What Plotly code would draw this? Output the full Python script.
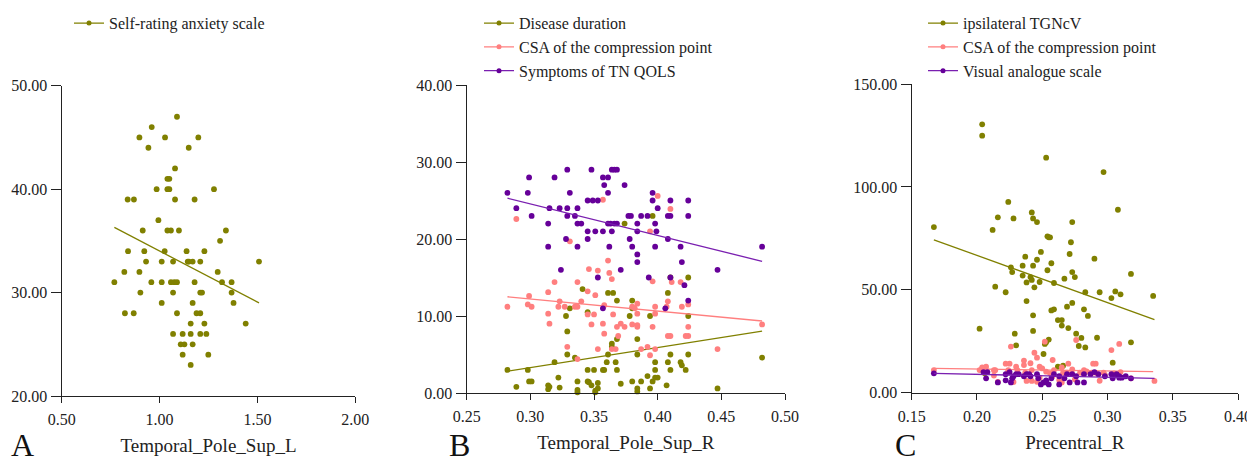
import plotly.graph_objects as go

# colours
OLIVE = "#808000"
PINK = "#FF7F7F"
PURPLE = "#660099"
PURPLE_LINE = "#7A1FB0"
FONT = "Liberation Serif, Times New Roman, serif"

# ---- Panel A: Temporal_Pole_Sup_L vs Self-rating anxiety scale ----
sas_x = [1.089, 0.960, 0.897, 1.028, 1.198, 0.943, 1.149, 1.079, 1.040, 1.050,
         0.985, 1.040, 1.050, 1.278, 0.837, 0.869, 1.079, 1.179, 0.994,
         0.914, 1.040, 1.058, 1.099, 1.339, 1.309, 0.839, 0.922, 1.026, 1.138, 1.229,
         0.931, 1.011, 1.069, 1.144, 1.150, 1.169, 1.208, 1.508, 0.820, 0.897, 1.297,
         0.769, 0.958, 1.011, 1.058, 1.075, 1.089, 1.179, 1.319, 1.368,
         0.902, 1.069, 1.208, 1.217, 1.368, 1.011, 1.169, 1.378,
         0.823, 0.868, 1.089, 1.189, 1.208, 1.159, 1.229, 1.440,
         1.069, 1.118, 1.159, 1.208, 1.239, 1.108, 1.127, 1.169, 1.118, 1.249, 1.159]
sas_y = [47, 46, 45, 45, 45, 44, 44, 42, 41, 41,
         40, 40, 40, 40, 39, 39, 39, 39, 37,
         36, 36, 36, 36, 36, 35, 34, 34, 34, 34, 34,
         33, 33, 33, 33, 33, 33, 33, 33, 32, 32, 32,
         31, 31, 31, 31, 31, 31, 31, 31, 31,
         30, 30, 30, 30, 30, 29, 29, 29,
         28, 28, 28, 28, 28, 27, 27, 27,
         26, 26, 26, 26, 26, 25, 25, 25, 24, 24, 23]
sas_fit_x = [0.769, 1.508]
sas_fit_y = [36.3, 29.0]

# ---- Panel B: Temporal_Pole_Sup_R ----
dur_x = [0.396, 0.374, 0.410, 0.424, 0.341, 0.361, 0.365, 0.408, 0.368, 0.380,
         0.331, 0.380, 0.345, 0.328, 0.378, 0.394, 0.424, 0.329, 0.368, 0.384,
         0.364, 0.364, 0.329, 0.335, 0.319, 0.361, 0.384, 0.410, 0.424, 0.398,
         0.408, 0.418, 0.419, 0.422, 0.360, 0.367, 0.345, 0.350, 0.357, 0.358,
         0.368, 0.398, 0.410, 0.282, 0.298, 0.299, 0.301, 0.314, 0.315, 0.289,
         0.314, 0.323, 0.322, 0.337, 0.337, 0.345, 0.346, 0.348, 0.353, 0.351,
         0.353, 0.371, 0.380, 0.384, 0.384, 0.387, 0.392, 0.396, 0.398, 0.400,
         0.394, 0.407, 0.447, 0.482, 0.337, 0.351]
dur_y = [23.0, 22.0, 15.0, 15.0, 13.5, 13.0, 13.0, 13.0, 12.0, 12.0,
         11.0, 11.0, 10.5, 10.0, 10.0, 10.0, 10.0, 8.0, 7.0, 7.0,
         6.4, 6.0, 5.0, 4.6, 4.0, 5.0, 5.0, 5.0, 5.0, 4.0,
         4.0, 4.0, 3.6, 3.0, 4.0, 4.0, 3.0, 3.0, 3.0, 3.0,
         3.0, 3.0, 3.0, 3.0, 3.0, 1.5, 1.5, 1.0, 0.8, 0.8,
         0.5, 0.7, 2.0, 1.5, 0.4, 1.5, 1.4, 1.0, 1.3, 0.3,
         0.6, 1.2, 1.5, 0.6, 0.2, 1.5, 2.2, 1.5, 2.0, 2.0,
         0.6, 1.0, 0.6, 4.6, 0.1, 0.1]
dur_fit_x = [0.281, 0.482]
dur_fit_y = [2.8, 8.05]

csa_b_x = [0.289, 0.357, 0.400, 0.410, 0.394, 0.331, 0.361, 0.346, 0.353, 0.362,
           0.364, 0.396, 0.411, 0.418, 0.319, 0.337, 0.314, 0.345, 0.351, 0.299,
           0.298, 0.301, 0.282, 0.314, 0.315, 0.323, 0.322, 0.327, 0.335, 0.337,
           0.340, 0.345, 0.348, 0.357, 0.358, 0.365, 0.368, 0.371, 0.374, 0.369,
           0.380, 0.384, 0.384, 0.384, 0.380, 0.382, 0.384, 0.398, 0.398, 0.396,
           0.408, 0.407, 0.419, 0.424, 0.424, 0.424, 0.422, 0.410, 0.408, 0.387,
           0.392, 0.398, 0.394, 0.447, 0.482, 0.329, 0.337, 0.353, 0.364, 0.367,
           0.358, 0.350]
csa_b_y = [22.6, 25.1, 25.6, 23.9, 21.0, 19.7, 17.2, 16.1, 15.9, 15.6,
           14.8, 14.5, 14.4, 14.4, 14.4, 14.4, 13.1, 13.2, 12.7, 12.6,
           11.5, 11.2, 11.2, 10.3, 9.0, 11.9, 11.2, 11.2, 11.2, 11.2,
           11.9, 10.2, 8.9, 9.0, 11.4, 10.2, 8.6, 9.0, 8.6, 7.4,
           8.9, 8.6, 8.8, 10.3, 11.2, 11.0, 11.6, 10.3, 11.2, 8.6,
           11.9, 11.2, 11.2, 11.5, 8.6, 7.4, 7.4, 7.4, 7.4, 5.7,
           6.0, 5.7, 4.9, 5.7, 8.9, 6.0, 4.4, 5.7, 5.7, 5.7,
           7.7, 10.2]
csa_b_fit_x = [0.282, 0.482]
csa_b_fit_y = [12.5, 9.35]

qols_x = [0.329, 0.348, 0.364, 0.366, 0.368,
          0.299, 0.319, 0.357, 0.361,
          0.358, 0.374,
          0.282, 0.298, 0.331, 0.361, 0.396,
          0.345, 0.349, 0.353, 0.396, 0.410, 0.424,
          0.289, 0.315, 0.323, 0.329, 0.337, 0.400,
          0.301, 0.329, 0.335, 0.377, 0.379, 0.387, 0.392, 0.408, 0.410, 0.424,
          0.314, 0.337, 0.340, 0.361, 0.363, 0.366, 0.368, 0.384, 0.398,
          0.345, 0.351, 0.357, 0.364, 0.384, 0.399,
          0.328, 0.345, 0.378, 0.408,
          0.314, 0.337, 0.362, 0.380, 0.398, 0.418, 0.482,
          0.384, 0.384, 0.419,
          0.324, 0.371, 0.447,
          0.353, 0.393, 0.410,
          0.421, 0.424, 0.357, 0.406]
qols_y = [29, 29, 29, 29, 29,
          28, 28, 28, 28,
          27, 27,
          26, 26, 26, 26, 26,
          25, 25, 25, 25, 25, 25,
          24, 24, 24, 24, 24, 24,
          23, 23, 23, 23, 23, 23, 23, 23, 23, 23,
          22, 22, 22, 22, 22, 22, 22, 22, 22,
          21, 21, 21, 21, 21, 21,
          20, 20, 20, 20,
          19, 19, 19, 19, 19, 19, 19,
          18, 17, 17,
          16, 16, 16,
          15, 15, 15,
          14, 12, 11, 11]
qols_fit_x = [0.282, 0.482]
qols_fit_y = [25.3, 17.1]

# ---- Panel C: Precentral_R ----
tgn_x = [0.204, 0.204, 0.253, 0.297, 0.308, 0.224, 0.242, 0.216, 0.228, 0.243,
         0.246, 0.273, 0.167, 0.212, 0.254, 0.255, 0.256, 0.272, 0.271, 0.249,
         0.237, 0.290, 0.246, 0.235, 0.243, 0.226, 0.257, 0.227, 0.273, 0.275,
         0.318, 0.254, 0.235, 0.241, 0.242, 0.238, 0.248, 0.259, 0.267, 0.244,
         0.214, 0.222, 0.283, 0.294, 0.306, 0.303, 0.310, 0.335, 0.238, 0.273,
         0.269, 0.282, 0.257, 0.259, 0.285, 0.243, 0.262, 0.265, 0.265, 0.270,
         0.202, 0.243, 0.276, 0.229, 0.280, 0.292, 0.255, 0.253, 0.252, 0.318,
         0.230, 0.278, 0.283, 0.251, 0.266, 0.262, 0.304, 0.206]
tgn_y = [130.4, 124.9, 114.2, 107.2, 88.9, 92.7, 87.6, 85.2, 84.7, 84.7,
         82.9, 82.9, 80.5, 79.1, 76.0, 75.5, 75.5, 73.1, 67.4, 68.4,
         66.1, 65.1, 64.6, 61.7, 61.7, 60.9, 62.9, 58.6, 58.6, 56.2,
         57.7, 59.5, 56.9, 56.2, 54.8, 53.6, 53.8, 53.3, 55.4, 51.2,
         51.5, 48.8, 48.8, 48.8, 49.2, 46.0, 47.8, 47.0, 44.5, 43.6,
         41.8, 40.5, 40.0, 40.5, 37.3, 37.6, 35.3, 35.3, 32.6, 31.4,
         31.1, 30.0, 28.7, 28.7, 26.6, 26.7, 25.8, 24.5, 23.7, 24.5,
         23.0, 22.7, 22.0, 18.8, 13.1, 12.6, 14.6, 9.4]
tgn_fit_x = [0.167, 0.336]
tgn_fit_y = [74.3, 35.5]

csa_c_x = [0.226, 0.252, 0.276, 0.309, 0.303, 0.244, 0.246, 0.236, 0.258, 0.222,
           0.225, 0.230, 0.289, 0.291, 0.270, 0.236, 0.241, 0.248, 0.250, 0.265,
           0.204, 0.207, 0.202, 0.213, 0.214, 0.224, 0.231, 0.237, 0.242, 0.253,
           0.256, 0.259, 0.266, 0.269, 0.273, 0.279, 0.282, 0.284, 0.288, 0.291,
           0.297, 0.304, 0.310, 0.318, 0.336, 0.213, 0.228, 0.216, 0.238, 0.242,
           0.246, 0.248, 0.258, 0.263, 0.265, 0.275, 0.294, 0.298, 0.305, 0.204,
           0.167]
csa_c_y = [22.4, 24.8, 25.6, 23.7, 20.7, 19.4, 17.0, 15.6, 15.9, 14.1,
           14.1, 12.6, 14.1, 14.1, 14.1, 13.4, 14.3, 12.6, 11.8, 12.3,
           12.3, 12.6, 11.0, 10.9, 10.9, 10.9, 11.0, 9.7, 11.0, 10.2,
           9.4, 11.0, 9.7, 9.7, 11.3, 9.7, 11.0, 10.4, 9.7, 9.7,
           9.7, 8.7, 10.0, 7.0, 5.7, 8.3, 5.2, 5.2, 5.7, 5.7,
           5.3, 7.3, 8.1, 6.2, 4.9, 6.5, 5.8, 8.7, 9.4, 11.7,
           11.0]
csa_c_fit_x = [0.167, 0.335]
csa_c_fit_y = [11.8, 10.2]

vas_x = [0.205, 0.208, 0.207, 0.222, 0.225, 0.227, 0.228, 0.230, 0.232, 0.236,
         0.238, 0.240, 0.241, 0.246, 0.247, 0.249, 0.251, 0.253, 0.253, 0.255,
         0.257, 0.263, 0.263, 0.267, 0.269, 0.271, 0.277, 0.282, 0.282, 0.290,
         0.293, 0.298, 0.303, 0.304, 0.307, 0.309, 0.222, 0.226, 0.216, 0.259,
         0.273, 0.276, 0.287, 0.318, 0.314, 0.167, 0.309, 0.311]
vas_y = [10, 10, 7, 9, 10, 7, 8, 9, 9, 8,
         9, 9, 8, 9, 7, 4, 5, 6, 5, 4,
         7, 8, 4, 7, 9, 5, 5, 5, 9, 10,
         9, 8, 9, 7, 9, 8, 6, 5, 5, 9,
         9, 8, 9, 7, 8, 9.4, 7.3, 7.3]
vas_fit_x = [0.167, 0.336]
vas_fit_y = [9.4, 7.0]

# ---- build figure ----
# the page adds an 8px body margin, so the figure is 8px smaller each way
W, H = 1247, 457
fig = go.Figure()


def add_series(x, y, fx, fy, name, color, line_color, ax, legend):
    # scatter dots
    fig.add_trace(go.Scatter(x=x, y=y, mode="markers", xaxis="x" + ax, yaxis="y" + ax,
                             marker=dict(color=color, size=5.8), showlegend=False,
                             cliponaxis=False))
    # fitted line
    fig.add_trace(go.Scatter(x=fx, y=fy, mode="lines", xaxis="x" + ax, yaxis="y" + ax,
                             line=dict(color=line_color, width=1.3), showlegend=False))
    # legend entry (line with dot)
    fig.add_trace(go.Scatter(x=[None], y=[None], mode="lines+markers", name=name,
                             xaxis="x" + ax, yaxis="y" + ax, legend=legend,
                             line=dict(color=line_color, width=1.3),
                             marker=dict(color=color, size=5)))


add_series(sas_x, sas_y, sas_fit_x, sas_fit_y, "Self-rating anxiety scale", OLIVE, OLIVE, "", "legend")

add_series(dur_x, dur_y, dur_fit_x, dur_fit_y, "Disease duration", OLIVE, OLIVE, "2", "legend2")
add_series(csa_b_x, csa_b_y, csa_b_fit_x, csa_b_fit_y, "CSA of the compression point", PINK, PINK, "2", "legend2")
add_series(qols_x, qols_y, qols_fit_x, qols_fit_y, "Symptoms of TN QOLS", PURPLE, PURPLE_LINE, "2", "legend2")

add_series(tgn_x, tgn_y, tgn_fit_x, tgn_fit_y, "ipsilateral TGNcV", OLIVE, OLIVE, "3", "legend3")
add_series(csa_c_x, csa_c_y, csa_c_fit_x, csa_c_fit_y, "CSA of the compression point", PINK, PINK, "3", "legend3")
add_series(vas_x, vas_y, vas_fit_x, vas_fit_y, "Visual analogue scale", PURPLE, PURPLE_LINE, "3", "legend3")


def axis(**kw):
    d = dict(showline=True, linecolor="#222", linewidth=1.3, ticks="outside", ticklen=6,
             tickwidth=1.3, tickcolor="#222", showgrid=False, zeroline=False,
             tickfont=dict(size=16, color="#222"), tickformat=".2f", automargin=False)
    d.update(kw)
    return d


def xdom(left, right):
    return [(left - 8) / W, (right - 8) / W]


def ydom(bottom, top):
    return [(465 - bottom) / H, (465 - top) / H]


legend_style = dict(font=dict(size=16, color="#222"), bgcolor="rgba(0,0,0,0)",
                    yanchor="top", y=1.004, xanchor="left")
xtitle = dict(standoff=11)
ystyle = dict(ticklen=10, ticklabelstandoff=0)

fig.update_layout(
    width=W, height=H,
    margin=dict(l=0, r=0, t=0, b=0, autoexpand=False),
    paper_bgcolor="white", plot_bgcolor="white",
    font=dict(family=FONT, size=16, color="#222"),
    xaxis=axis(domain=xdom(61.7, 355.3), range=[0.5, 2.0], tickvals=[0.5, 1.0, 1.5, 2.0],
               anchor="y", ticklabelstandoff=3, title=dict(text="Temporal_Pole_Sup_L", **xtitle)),
    yaxis=axis(domain=ydom(396, 85.7), range=[20, 50], dtick=10, anchor="x", **ystyle),
    xaxis2=axis(domain=xdom(466.7, 785), range=[0.25, 0.50], dtick=0.05, anchor="y2",
                ticklabelstandoff=3, title=dict(text="Temporal_Pole_Sup_R", **xtitle)),
    yaxis2=axis(domain=ydom(393, 85), range=[0, 40], dtick=10, anchor="x2", **ystyle),
    xaxis3=axis(domain=xdom(911.7, 1238), range=[0.15, 0.40], dtick=0.05, anchor="y3",
                ticklabelstandoff=3, title=dict(text="Precentral_R", **xtitle)),
    yaxis3=axis(domain=ydom(392.7, 84), range=[0, 150], dtick=50, anchor="x3", **ystyle),
    legend=dict(x=61 / W, **legend_style),
    legend2=dict(x=471 / W, **legend_style),
    legend3=dict(x=915 / W, **legend_style),
)

# panel letters
for letter, px in [("A", 1), ("B", 439), ("C", 885)]:
    fig.add_annotation(text=letter, x=px / W, y=0, xref="paper", yref="paper",
                       xanchor="left", yanchor="bottom", showarrow=False, yshift=0,
                       font=dict(size=32, color="#111"))

fig.write_html("out.html")
